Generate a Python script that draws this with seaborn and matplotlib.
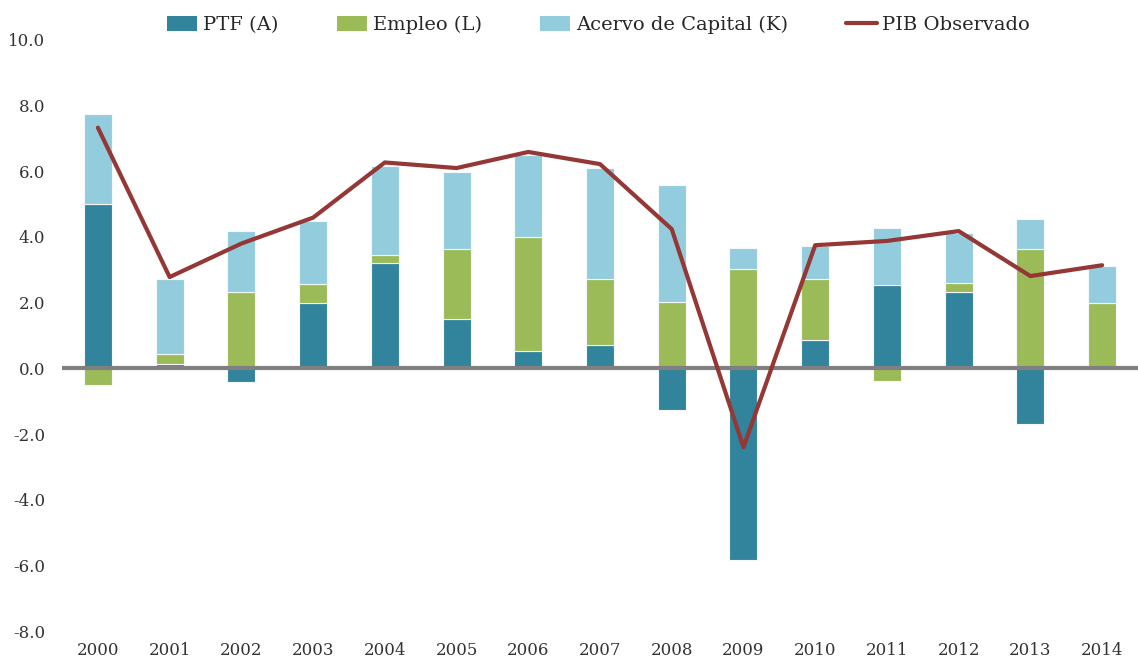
import matplotlib
matplotlib.use("Agg")
import matplotlib.pyplot as plt
from matplotlib.lines import Line2D
from matplotlib.patches import Patch
import numpy as np
import pandas as pd
import seaborn as sns

years = [str(y) for y in range(2000, 2015)]
ptf = [5.00, 0.14, -0.42, 1.99, 3.21, 1.49, 0.53, 0.72, -1.26, -5.83, 0.87, 2.53, 2.33, -1.69, 0.0]
empleo = [-0.50, 0.31, 2.33, 0.59, 0.24, 2.13, 3.46, 2.00, 2.02, 3.03, 1.85, -0.39, 0.28, 3.64, 1.99]
capital = [2.76, 2.26, 1.86, 1.91, 2.71, 2.35, 2.50, 3.39, 3.56, 0.65, 1.00, 1.73, 1.50, 0.92, 1.12]
pib = [7.33, 2.78, 3.80, 4.59, 6.27, 6.10, 6.59, 6.22, 4.24, -2.40, 3.75, 3.88, 4.18, 2.81, 3.14]

series = [
    ("PTF (A)", ptf, "#31849B"),
    ("Empleo (L)", empleo, "#9BBB59"),
    ("Acervo de Capital (K)", capital, "#93CDDD"),
]

sns.set_theme(style="white")
plt.rcParams["font.family"] = ["DejaVu Serif"]
plt.rcParams["font.size"] = 12

fig = plt.figure(figsize=(11.38, 6.62), dpi=100)
ax = fig.add_axes([0.0545, 0.0468, 0.9455, 0.8928])

pos_base = np.zeros(len(years))
neg_base = np.zeros(len(years))
for name, vals, color in series:
    vals = np.array(vals)
    bottom = np.where(vals >= 0, pos_base, neg_base)
    df = pd.DataFrame({"year": years, "value": vals})
    sns.barplot(data=df, x="year", y="value", bottom=bottom, color=color,
                width=0.39, edgecolor="#f4f8f8", linewidth=0.8, saturation=1,
                ax=ax, zorder=2)
    pos_base = pos_base + np.where(vals >= 0, vals, 0)
    neg_base = neg_base + np.where(vals < 0, vals, 0)

ax.axhline(0, color="#808080", linewidth=3, zorder=3)

line_df = pd.DataFrame({"pos": np.arange(len(years)), "pib": pib})
sns.lineplot(data=line_df, x="pos", y="pib", color="#953735", linewidth=3,
             ax=ax, zorder=4)

ax.set_xlim(-0.5, len(years) - 0.5)
ax.set_ylim(-8, 10)
ax.set_yticks(np.arange(-8, 10.1, 2))
ax.set_yticklabels([f"{v:.1f}" for v in np.arange(-8, 10.1, 2)])
ax.set_xticks(range(len(years)))
ax.set_xticklabels(years)
ax.set_xlabel("")
ax.set_ylabel("")
ax.tick_params(axis="both", length=0, labelsize=12, colors="#333333")
ax.tick_params(axis="y", pad=12)
ax.tick_params(axis="x", pad=8)
for s in ax.spines.values():
    s.set_visible(False)

handles = [Patch(facecolor=c, edgecolor="none") for _, _, c in series]
handles.append(Line2D([0], [0], color="#953735", linewidth=3))
labels = [n for n, _, _ in series] + ["PIB Observado"]
fig.legend(handles, labels, loc="center", bbox_to_anchor=(0.526, 0.962), ncol=4,
           frameon=False, fontsize=14, handlelength=1.55, handleheight=0.75,
           handletextpad=0.3, columnspacing=3.0)

fig.savefig("out.png", dpi=100)
